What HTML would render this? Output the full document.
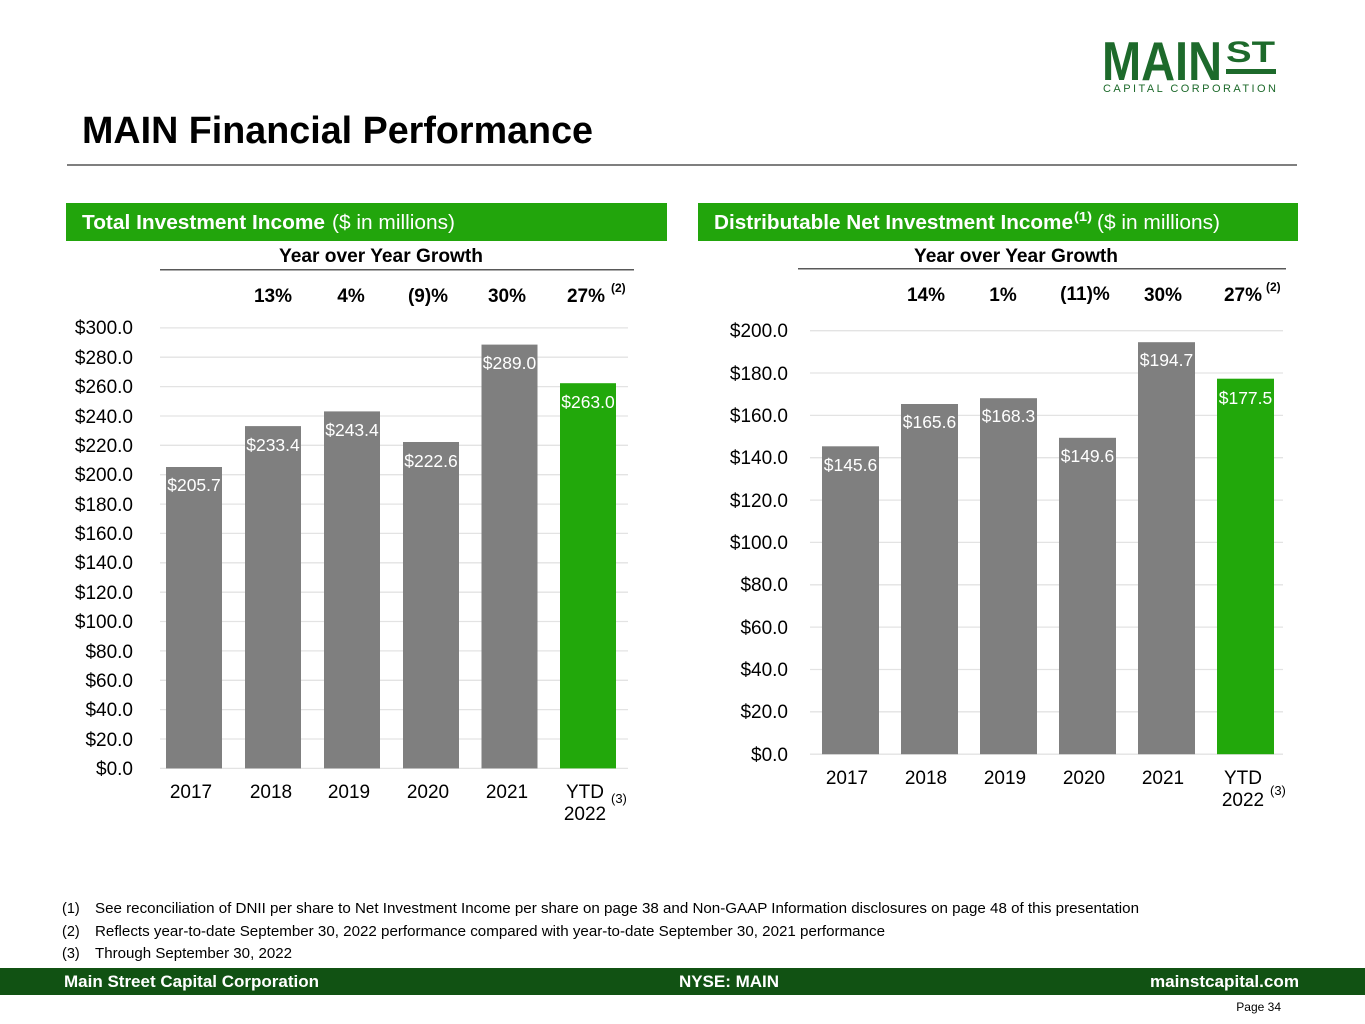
<!DOCTYPE html>
<html>
<head>
<meta charset="utf-8">
<style>
  html,body{margin:0;padding:0;background:#fff;}
  body{width:1365px;height:1024px;overflow:hidden;font-family:"Liberation Sans",Arial,sans-serif;}
  svg{display:block;}
  text{font-family:"Liberation Sans",Arial,sans-serif;}
</style>
</head>
<body>
<svg width="1365" height="1024" viewBox="0 0 1365 1024" xmlns="http://www.w3.org/2000/svg">
  <!-- Logo -->
  <g fill="#1d6a2b">
    <text x="1102" y="80" font-size="55" font-weight="bold" textLength="120" lengthAdjust="spacingAndGlyphs">MAIN</text>
    <text x="1226" y="62" font-size="30" font-weight="bold" textLength="49" lengthAdjust="spacingAndGlyphs">ST</text>
    <rect x="1226" y="69" width="50" height="5"/>
    <text x="1103" y="92" font-size="11" textLength="173" lengthAdjust="spacing">CAPITAL CORPORATION</text>
  </g>

  <!-- Title -->
  <text x="82" y="143" font-size="38" font-weight="bold" fill="#000" textLength="511" lengthAdjust="spacingAndGlyphs">MAIN Financial Performance</text>
  <rect x="67" y="164" width="1230" height="2" fill="#7f7f7f"/>

  <!-- Header bars -->
  <rect x="66" y="203" width="601" height="38" fill="#22a50c"/>
  <rect x="698" y="203" width="600" height="38" fill="#22a50c"/>
  <g font-size="20.5" fill="#fff">
    <text x="82" y="229" font-weight="bold" textLength="243" lengthAdjust="spacingAndGlyphs">Total Investment Income</text>
    <text x="332" y="229" textLength="123" lengthAdjust="spacingAndGlyphs">($ in millions)</text>
    <text x="714" y="229" font-weight="bold" textLength="359" lengthAdjust="spacingAndGlyphs">Distributable Net Investment Income</text>
    <text x="1074" y="221" font-weight="bold" font-size="13" textLength="18" lengthAdjust="spacingAndGlyphs">(1)</text>
    <text x="1097" y="229" textLength="123" lengthAdjust="spacingAndGlyphs">($ in millions)</text>
  </g>

  <!-- YoY headers -->
  <text x="279" y="262" font-size="19" font-weight="bold" textLength="204" lengthAdjust="spacingAndGlyphs">Year over Year Growth</text>
  <rect x="160" y="269" width="474" height="1.5" fill="#595959"/>
  <text x="914" y="262" font-size="19" font-weight="bold" textLength="204" lengthAdjust="spacingAndGlyphs">Year over Year Growth</text>
  <rect x="798" y="268" width="488" height="1.5" fill="#595959"/>

  <g font-size="19" font-weight="bold" text-anchor="middle">
    <text x="273" y="302">13%</text>
    <text x="351" y="302">4%</text>
    <text x="428" y="302">(9)%</text>
    <text x="507" y="302">30%</text>
    <text x="586" y="302">27%</text>
    <text x="926" y="301">14%</text>
    <text x="1003" y="301">1%</text>
    <text x="1085" y="300">(11)%</text>
    <text x="1163" y="301">30%</text>
    <text x="1243" y="301">27%</text>
  </g>
  <g font-size="12" font-weight="bold">
    <text x="611" y="292">(2)</text>
    <text x="1266" y="291">(2)</text>
  </g>

  <!-- LEFT CHART gridlines -->
  <g stroke="#e3e3e3" stroke-width="1.3">
    <line x1="160" x2="628" y1="327.9" y2="327.9"/>
    <line x1="160" x2="628" y1="357.2" y2="357.2"/>
    <line x1="160" x2="628" y1="386.6" y2="386.6"/>
    <line x1="160" x2="628" y1="416.0" y2="416.0"/>
    <line x1="160" x2="628" y1="445.3" y2="445.3"/>
    <line x1="160" x2="628" y1="474.7" y2="474.7"/>
    <line x1="160" x2="628" y1="504.1" y2="504.1"/>
    <line x1="160" x2="628" y1="533.4" y2="533.4"/>
    <line x1="160" x2="628" y1="562.8" y2="562.8"/>
    <line x1="160" x2="628" y1="592.2" y2="592.2"/>
    <line x1="160" x2="628" y1="621.5" y2="621.5"/>
    <line x1="160" x2="628" y1="650.9" y2="650.9"/>
    <line x1="160" x2="628" y1="680.3" y2="680.3"/>
    <line x1="160" x2="628" y1="709.6" y2="709.6"/>
    <line x1="160" x2="628" y1="739.0" y2="739.0"/>
    <line x1="160" x2="628" y1="768.4" y2="768.4"/>
  </g>
  <g font-size="19" text-anchor="end" fill="#000">
    <text x="133" y="334">$300.0</text>
    <text x="133" y="364">$280.0</text>
    <text x="133" y="393">$260.0</text>
    <text x="133" y="423">$240.0</text>
    <text x="133" y="452">$220.0</text>
    <text x="133" y="481">$200.0</text>
    <text x="133" y="511">$180.0</text>
    <text x="133" y="540">$160.0</text>
    <text x="133" y="569">$140.0</text>
    <text x="133" y="599">$120.0</text>
    <text x="133" y="628">$100.0</text>
    <text x="133" y="658">$80.0</text>
    <text x="133" y="687">$60.0</text>
    <text x="133" y="716">$40.0</text>
    <text x="133" y="746">$20.0</text>
    <text x="133" y="775">$0.0</text>
  </g>
  <!-- left bars -->
  <g fill="#7f7f7f">
    <rect x="166" y="467" width="56" height="301.4"/>
    <rect x="245" y="426.1" width="56" height="342.3"/>
    <rect x="324" y="411.4" width="56" height="357"/>
    <rect x="403" y="442.0" width="56" height="326.4"/>
    <rect x="481.5" y="344.6" width="56" height="423.8"/>
  </g>
  <rect x="560" y="383.2" width="56" height="385.2" fill="#22a80b"/>
  <g font-size="17.5" fill="#fff" text-anchor="middle">
    <text x="194" y="491">$205.7</text>
    <text x="273" y="451">$233.4</text>
    <text x="352" y="436">$243.4</text>
    <text x="431" y="467">$222.6</text>
    <text x="509.5" y="369">$289.0</text>
    <text x="588" y="408">$263.0</text>
  </g>
  <g font-size="19" text-anchor="middle">
    <text x="191" y="798">2017</text>
    <text x="271" y="798">2018</text>
    <text x="349" y="798">2019</text>
    <text x="428" y="798">2020</text>
    <text x="507" y="798">2021</text>
    <text x="585" y="798">YTD</text>
    <text x="585" y="820">2022</text>
  </g>
  <text x="611" y="803" font-size="13">(3)</text>

  <!-- RIGHT CHART gridlines -->
  <g stroke="#e3e3e3" stroke-width="1.3">
    <line x1="810" x2="1283" y1="330.7" y2="330.7"/>
    <line x1="810" x2="1283" y1="373.0" y2="373.0"/>
    <line x1="810" x2="1283" y1="415.4" y2="415.4"/>
    <line x1="810" x2="1283" y1="457.7" y2="457.7"/>
    <line x1="810" x2="1283" y1="500.1" y2="500.1"/>
    <line x1="810" x2="1283" y1="542.4" y2="542.4"/>
    <line x1="810" x2="1283" y1="584.8" y2="584.8"/>
    <line x1="810" x2="1283" y1="627.1" y2="627.1"/>
    <line x1="810" x2="1283" y1="669.5" y2="669.5"/>
    <line x1="810" x2="1283" y1="711.8" y2="711.8"/>
    <line x1="810" x2="1283" y1="754.2" y2="754.2"/>
  </g>
  <g font-size="19" text-anchor="end" fill="#000">
    <text x="788" y="337">$200.0</text>
    <text x="788" y="380">$180.0</text>
    <text x="788" y="422">$160.0</text>
    <text x="788" y="464">$140.0</text>
    <text x="788" y="507">$120.0</text>
    <text x="788" y="549">$100.0</text>
    <text x="788" y="591">$80.0</text>
    <text x="788" y="634">$60.0</text>
    <text x="788" y="676">$40.0</text>
    <text x="788" y="718">$20.0</text>
    <text x="788" y="761">$0.0</text>
  </g>
  <g fill="#7f7f7f">
    <rect x="822" y="446.3" width="57" height="307.9"/>
    <rect x="901" y="404.0" width="57" height="350.2"/>
    <rect x="980" y="398.2" width="57" height="356"/>
    <rect x="1059" y="437.8" width="57" height="316.4"/>
    <rect x="1138" y="342.2" width="57" height="412"/>
  </g>
  <rect x="1217" y="378.7" width="57" height="375.5" fill="#22a80b"/>
  <g font-size="17.5" fill="#fff" text-anchor="middle">
    <text x="850.5" y="471">$145.6</text>
    <text x="929.5" y="428">$165.6</text>
    <text x="1008.5" y="422">$168.3</text>
    <text x="1087.5" y="462">$149.6</text>
    <text x="1166.5" y="366">$194.7</text>
    <text x="1245.5" y="404">$177.5</text>
  </g>
  <g font-size="19" text-anchor="middle">
    <text x="847" y="784">2017</text>
    <text x="926" y="784">2018</text>
    <text x="1005" y="784">2019</text>
    <text x="1084" y="784">2020</text>
    <text x="1163" y="784">2021</text>
    <text x="1243" y="784">YTD</text>
    <text x="1243" y="806">2022</text>
  </g>
  <text x="1270" y="795" font-size="13">(3)</text>

  <!-- Footnotes -->
  <g font-size="14.5" fill="#000">
    <text x="62" y="913">(1)</text>
    <text x="95" y="913" textLength="1044" lengthAdjust="spacingAndGlyphs">See reconciliation of DNII per share to Net Investment Income per share on page 38 and Non-GAAP Information disclosures on page 48 of this presentation</text>
    <text x="62" y="936">(2)</text>
    <text x="95" y="936" textLength="790" lengthAdjust="spacingAndGlyphs">Reflects year-to-date September 30, 2022 performance compared with year-to-date September 30, 2021 performance</text>
    <text x="62" y="958">(3)</text>
    <text x="95" y="958" textLength="197" lengthAdjust="spacingAndGlyphs">Through September 30, 2022</text>
  </g>

  <!-- Footer -->
  <rect x="0" y="968" width="1365" height="27" fill="#115213"/>
  <g font-size="17" font-weight="bold" fill="#fff">
    <text x="64" y="987" textLength="255" lengthAdjust="spacingAndGlyphs">Main Street Capital Corporation</text>
    <text x="729" y="987" text-anchor="middle">NYSE: MAIN</text>
    <text x="1150" y="987" textLength="149" lengthAdjust="spacingAndGlyphs">mainstcapital.com</text>
  </g>
  <text x="1281" y="1011" font-size="12" text-anchor="end" fill="#000">Page 34</text>
</svg>
</body>
</html>
